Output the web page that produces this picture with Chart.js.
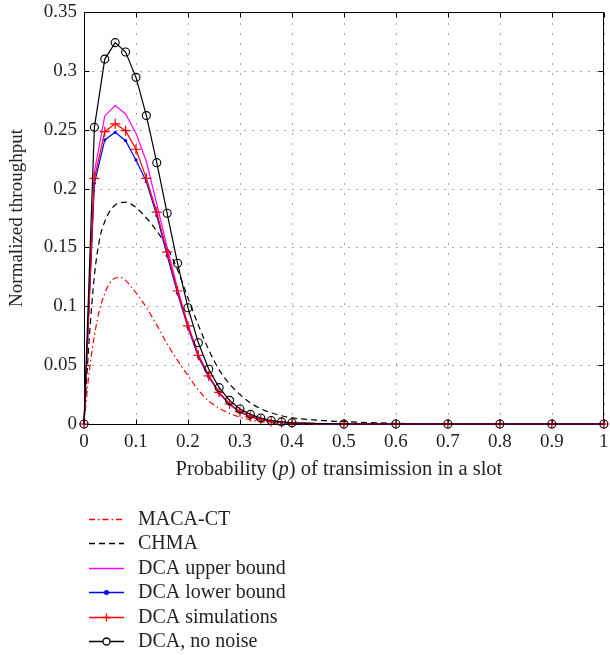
<!DOCTYPE html>
<html>
<head>
<meta charset="utf-8">
<script src="https://cdn.jsdelivr.net/npm/chart.js@4.4.0/dist/chart.umd.min.js"></script>
<style>
  html, body { margin: 0; padding: 0; background: #fff; }
</style>
</head>
<body>
<canvas id="throughputChart" width="610" height="655"></canvas>
<script>
// transmission probability samples
const pDense = [0, 0.01, 0.02, 0.03, 0.04, 0.05, 0.06, 0.07, 0.08, 0.09, 0.1,
  0.12, 0.14, 0.16, 0.18, 0.2, 0.22, 0.24, 0.26, 0.28, 0.3, 0.32, 0.34, 0.36, 0.38, 0.4,
  0.45, 0.5, 0.6, 0.7, 0.8, 0.9, 1];
const pCoarse = [0, 0.02, 0.04, 0.06, 0.08, 0.1, 0.12, 0.14, 0.16, 0.18, 0.2,
  0.22, 0.24, 0.26, 0.28, 0.3, 0.32, 0.34, 0.36, 0.38, 0.4, 0.5, 0.6, 0.7, 0.8, 0.9, 1];

// throughput
const macaCT = [0, 0.044, 0.075, 0.097, 0.111, 0.12, 0.124, 0.1245, 0.122, 0.117, 0.1115,
  0.099, 0.084, 0.068, 0.054, 0.041, 0.029, 0.0195, 0.0135, 0.009, 0.0058, 0.0035, 0.002, 0.0011, 0.0006, 0.0003,
  0.0001, 0, 0, 0, 0, 0, 0];
const chma = [0, 0.072, 0.126, 0.157, 0.172, 0.181, 0.186, 0.188, 0.1885, 0.187, 0.184,
  0.175, 0.164, 0.150, 0.131, 0.107, 0.084, 0.063, 0.046, 0.034, 0.025, 0.018, 0.013, 0.0095, 0.007, 0.0052,
  0.0032, 0.002, 0.0006, 0.0001, 0, 0, 0];
const upperBound = [0, 0.2143, 0.2617, 0.2705, 0.2634, 0.247, 0.223, 0.187, 0.150, 0.115, 0.0845,
  0.059, 0.0412, 0.027, 0.0171, 0.0106, 0.0064, 0.0038, 0.0022, 0.0013, 0.0008, 0, 0, 0, 0, 0, 0];
const lowerBound = [0, 0.2045, 0.2413, 0.2478, 0.2407, 0.2243, 0.2058, 0.177, 0.143, 0.111, 0.082,
  0.057, 0.040, 0.0262, 0.0166, 0.0103, 0.0062, 0.0037, 0.0021, 0.0012, 0.0007, 0, 0, 0, 0, 0, 0];
const simulations = [0, 0.2087, 0.2483, 0.255, 0.2492, 0.2334, 0.2087, 0.180, 0.146, 0.113, 0.0833,
  0.0583, 0.0408, 0.0269, 0.017, 0.0105, 0.0063, 0.0038, 0.0022, 0.0013, 0.0008, 0, 0, 0, 0, 0, 0];
const noNoise = [0, 0.252, 0.310, 0.324, 0.316, 0.2945, 0.262, 0.222, 0.179, 0.1365, 0.0988,
  0.069, 0.0465, 0.0309, 0.0201, 0.0127, 0.0082, 0.0051, 0.003, 0.0018, 0.001, 0, 0, 0, 0, 0, 0];

const seriesNames = ['MACA-CT', 'CHMA', 'DCA upper bound', 'DCA lower bound', 'DCA simulations', 'DCA, no noise'];
const seriesColors = ['#ff0000', '#000000', '#ff00ff', '#0000ff', '#ff0000', '#000000'];
const xTickLabels = ['0', '0.1', '0.2', '0.3', '0.4', '0.5', '0.6', '0.7', '0.8', '0.9', '1'];
const yTickLabels = ['0', '0.05', '0.1', '0.15', '0.2', '0.25', '0.3', '0.35'];
const yTitle = 'Normalized throughput';
const xTitleParts = [['Probability (', false], ['p', true], [') of transimission in a slot', false]];

const FONT = '"Liberation Serif", "Times New Roman", serif';
const TEXT = '#231f20';

function pts(xs, ys) {
  return xs.map((x, i) => ({ x: x, y: ys[i] }));
}

// matlab style dotted grid, box and inward ticks
const framePlugin = {
  id: 'frame',
  beforeDatasetsDraw(chart) {
    const { ctx, chartArea: a, scales: { x, y } } = chart;
    const L = Math.round(a.left) + 0.5, R = Math.round(a.right) - 0.5;
    const T = Math.round(a.top) + 0.5, B = Math.round(a.bottom) + 0.5;
    ctx.save();
    ctx.lineWidth = 1;
    ctx.strokeStyle = 'rgba(0,0,0,0.65)';
    ctx.setLineDash([1, 9]);
    ctx.beginPath();
    x.ticks.forEach(t => {
      const px = Math.round(x.getPixelForValue(t.value)) + 0.5;
      ctx.moveTo(px, B); ctx.lineTo(px, T);
    });
    ctx.stroke();
    ctx.setLineDash([1, 7]);
    ctx.beginPath();
    y.ticks.forEach(t => {
      const py = Math.round(y.getPixelForValue(t.value)) + 0.5;
      ctx.moveTo(L, py); ctx.lineTo(R, py);
    });
    ctx.stroke();
    ctx.setLineDash([]);
    ctx.strokeStyle = '#000';
    ctx.beginPath();
    ctx.rect(L, T, R - L, B - T);
    x.ticks.forEach(t => {
      const px = Math.round(x.getPixelForValue(t.value)) + 0.5;
      ctx.moveTo(px, B); ctx.lineTo(px, B - 5);
      ctx.moveTo(px, T); ctx.lineTo(px, T + 5);
    });
    y.ticks.forEach(t => {
      const py = Math.round(y.getPixelForValue(t.value)) + 0.5;
      ctx.moveTo(L, py); ctx.lineTo(L + 5, py);
      ctx.moveTo(R, py); ctx.lineTo(R - 5, py);
    });
    ctx.stroke();
    ctx.restore();
  },
  afterDraw(chart) {
    const { ctx, chartArea: a } = chart;
    ctx.save();
    ctx.fillStyle = TEXT;
    ctx.textBaseline = 'middle';
    // x axis title with italic p
    let total = 0;
    xTitleParts.forEach(([s, it]) => {
      ctx.font = (it ? 'italic ' : '') + '20.5px ' + FONT;
      total += ctx.measureText(s).width;
    });
    let cx = (a.left + a.right) / 2 - total / 2 - 5;
    xTitleParts.forEach(([s, it]) => {
      ctx.font = (it ? 'italic ' : '') + '20.5px ' + FONT;
      ctx.textAlign = 'left';
      ctx.fillText(s, cx, 470);
      cx += ctx.measureText(s).width;
    });

    // legend stacked below the axes
    ctx.font = '20px ' + FONT;
    chart.data.datasets.forEach((ds, i) => {
      const yy = Math.round(519 + i * 24.4) + 0.5;
      const col = seriesColors[i];
      ctx.save();
      ctx.strokeStyle = col;
      ctx.lineWidth = 1.3;
      ctx.setLineDash(ds.borderDash || []);
      ctx.beginPath();
      ctx.moveTo(89, yy); ctx.lineTo(124, yy);
      ctx.stroke();
      ctx.setLineDash([]);
      const mx = 106.5;
      if (ds.pointStyle === 'cross' && ds.pointRadius > 0) {
        ctx.beginPath();
        ctx.moveTo(mx - 4, yy); ctx.lineTo(mx + 4, yy);
        ctx.moveTo(mx, yy - 4); ctx.lineTo(mx, yy + 4);
        ctx.stroke();
      } else if (ds.pointRadius > 2) {
        ctx.beginPath();
        ctx.arc(mx, yy, 3.5, 0, Math.PI * 2);
        ctx.fillStyle = '#fff';
        ctx.fill();
        ctx.stroke();
      } else if (ds.pointRadius > 0) {
        ctx.beginPath();
        ctx.arc(mx, yy, 2.5, 0, Math.PI * 2);
        ctx.fillStyle = col;
        ctx.fill();
      }
      ctx.restore();
      ctx.fillStyle = TEXT;
      ctx.textAlign = 'left';
      ctx.fillText(ds.label, 138, yy);
    });
    ctx.restore();
  }
};

const ctx = document.getElementById('throughputChart').getContext('2d');
const chart = new Chart(ctx, {
  type: 'line',
  data: {
    datasets: [
      { label: seriesNames[0], data: pts(pDense, macaCT), borderColor: seriesColors[0], borderWidth: 1.2,
        borderDash: [6, 3, 1.5, 3], pointRadius: 0, cubicInterpolationMode: 'monotone', order: 6 },
      { label: seriesNames[1], data: pts(pDense, chma), borderColor: seriesColors[1], borderWidth: 1.2,
        borderDash: [6, 4], pointRadius: 0, cubicInterpolationMode: 'monotone', order: 5 },
      { label: seriesNames[2], data: pts(pCoarse, upperBound), borderColor: seriesColors[2], borderWidth: 1.2,
        pointRadius: 0, tension: 0, order: 4 },
      { label: seriesNames[3], data: pts(pCoarse, lowerBound), borderColor: seriesColors[3], borderWidth: 1.2,
        pointStyle: 'circle', pointRadius: 1.6, pointBackgroundColor: seriesColors[3], pointBorderColor: seriesColors[3],
        pointBorderWidth: 0, tension: 0, order: 3 },
      { label: seriesNames[4], data: pts(pCoarse, simulations), borderColor: seriesColors[4], borderWidth: 1.2,
        pointStyle: 'cross', pointRadius: 5, pointBorderColor: seriesColors[4], pointBorderWidth: 1.2,
        tension: 0, order: 2 },
      { label: seriesNames[5], data: pts(pCoarse, noNoise), borderColor: seriesColors[5], borderWidth: 1.2,
        pointStyle: 'circle', pointRadius: 4, pointBackgroundColor: 'rgba(255,255,255,0)',
        pointBorderColor: seriesColors[5], pointBorderWidth: 1.1, tension: 0, order: 1 }
    ]
  },
  options: {
    responsive: false,
    animation: false,
    events: [],
    clip: false,
    layout: { padding: { top: 12, right: 1, bottom: 181, left: 0 } },
    plugins: { legend: { display: false }, tooltip: { enabled: false } },
    scales: {
      x: {
        type: 'linear', min: 0, max: 1,
        ticks: {
          stepSize: 0.1, autoSkip: false, maxRotation: 0, padding: 7, color: TEXT,
          font: { family: FONT, size: 19 },
          callback: (v, i) => xTickLabels[i] !== undefined ? xTickLabels[i] : v
        },
        grid: { display: false, drawTicks: false },
        border: { display: false },
        afterFit: s => { s.height = 50; s.paddingLeft = 0; s.paddingRight = 0; }
      },
      y: {
        type: 'linear', min: 0, max: 0.35,
        ticks: {
          stepSize: 0.05, autoSkip: false, padding: 7, color: TEXT,
          font: { family: FONT, size: 19 },
          callback: (v, i) => yTickLabels[i] !== undefined ? yTickLabels[i] : v
        },
        grid: { display: false, drawTicks: false },
        border: { display: false },
        title: { display: true, text: yTitle, color: TEXT, font: { family: FONT, size: 19 }, padding: { top: 6, bottom: 0 } },
        afterFit: s => { s.width = 84; s.paddingTop = 0; s.paddingBottom = 0; }
      }
    }
  },
  plugins: [framePlugin]
});
</script>
</body>
</html>
